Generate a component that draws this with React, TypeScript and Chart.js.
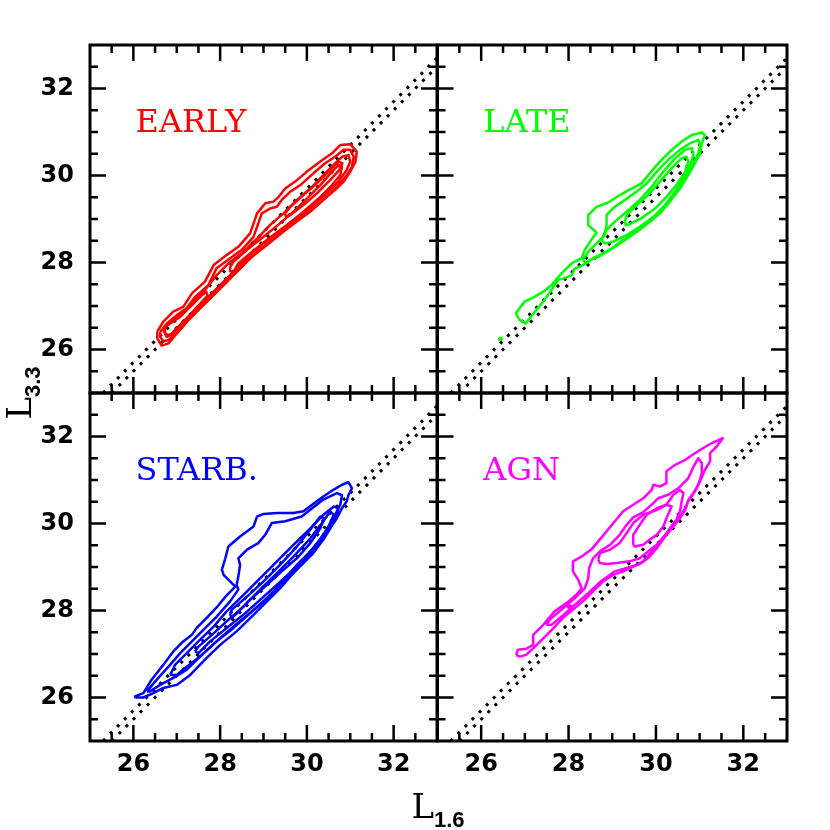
import React, { useEffect, useRef } from "react";
import { Chart, registerables } from "chart.js";

Chart.register(...registerables);

// ---------- axis definition ----------
const AXIS_MIN = 25;
const AXIS_MAX = 33;
const MAJOR_TICKS = [26, 28, 30, 32];
const MINOR_STEP = 0.5;
const DIAGONAL_OFFSETS = [-0.3, -0.5]; // y = x + offset
const LABEL_POS = [26.05, 31.0]; // panel label anchor (data units)

const PANEL_LABELS = ["EARLY", "LATE", "STARB.", "AGN"];
const X_TITLE = "L";
const X_TITLE_SUB = "1.6";
const Y_TITLE = "L";
const Y_TITLE_SUB = "3.3";

type P = [number, number];

// ---------- EARLY contours (L1.6, L3.3) ----------
const early1: P[] = [[26.55,26.41],[26.69,26.64],[26.92,26.87],[27.15,26.98],[27.35,27.29],[27.65,27.56],[27.85,27.94],[28.15,28.17],[28.42,28.36],[28.69,28.67],[28.81,29.01],[28.85,29.13],[29.04,29.36],[29.23,29.40],[29.35,29.51],[29.50,29.70],[29.73,29.86],[30.00,30.09],[30.31,30.32],[30.58,30.51],[30.77,30.70],[31.00,30.72],[31.15,30.55],[31.12,30.32],[31.00,30.09],[30.85,29.86],[30.65,29.67],[30.38,29.44],[30.08,29.17],[29.77,28.94],[29.46,28.71],[29.08,28.40],[28.69,28.10],[28.46,27.87],[28.15,27.56],[27.77,27.18],[27.46,26.87],[27.23,26.64],[27.00,26.37],[26.81,26.14],[26.65,26.09],[26.55,26.26]];
const early2: P[] = [[26.62,26.41],[26.77,26.60],[27.00,26.79],[27.23,26.95],[27.42,27.21],[27.73,27.48],[27.92,27.87],[28.23,28.10],[28.50,28.29],[28.77,28.59],[28.88,28.90],[28.96,29.13],[29.15,29.24],[29.31,29.28],[29.42,29.44],[29.62,29.63],[29.85,29.78],[30.15,30.05],[30.42,30.28],[30.65,30.43],[30.85,30.59],[31.00,30.59],[31.08,30.43],[31.04,30.20],[30.92,30.01],[30.73,29.78],[30.50,29.55],[30.19,29.28],[29.88,29.05],[29.54,28.78],[29.15,28.48],[28.77,28.17],[28.54,27.94],[28.23,27.63],[27.85,27.25],[27.54,26.95],[27.27,26.68],[27.04,26.41],[26.81,26.22],[26.69,26.19],[26.62,26.29]];
const early3: P[] = [[26.69,26.45],[26.85,26.64],[27.12,26.83],[27.38,27.10],[27.65,27.37],[27.92,27.71],[28.19,27.98],[28.50,28.21],[28.85,28.55],[29.15,28.86],[29.46,29.13],[29.77,29.44],[30.08,29.70],[30.38,30.01],[30.65,30.28],[30.81,30.43],[30.96,30.47],[31.00,30.32],[30.92,30.13],[30.73,29.86],[30.46,29.59],[30.15,29.32],[29.81,29.05],[29.46,28.78],[29.12,28.52],[28.73,28.21],[28.42,27.90],[28.12,27.60],[27.73,27.21],[27.42,26.91],[27.15,26.64],[26.92,26.37],[26.77,26.29]];
const early4: P[] = [[28.23,27.90],[28.31,28.02],[28.62,28.29],[29.00,28.59],[29.38,28.90],[29.69,29.17],[30.00,29.47],[30.31,29.78],[30.58,30.09],[30.73,30.24],[30.81,30.20],[30.77,30.01],[30.58,29.78],[30.27,29.47],[29.92,29.17],[29.54,28.86],[29.12,28.55],[28.69,28.21],[28.42,27.98],[28.31,27.79],[28.23,27.80]];
const early5: P[] = [[26.73,26.52],[26.85,26.60],[27.08,26.75],[27.31,26.98],[27.54,27.21],[27.68,27.33],[27.71,27.24],[27.50,27.01],[27.23,26.71],[27.00,26.49],[26.85,26.33],[26.75,26.35]];
const early6: P[] = [[29.50,29.13],[29.62,29.28],[29.92,29.55],[30.23,29.82],[30.54,30.13],[30.73,30.32],[30.82,30.28],[30.75,30.13],[30.54,29.90],[30.23,29.59],[29.92,29.32],[29.62,29.09],[29.52,29.05]];

// ---------- LATE contours ----------
const late1: P[] = [[26.79,26.83],[26.99,27.10],[27.22,27.21],[27.42,27.33],[27.61,27.48],[27.84,27.75],[28.07,27.98],[28.30,28.10],[28.37,28.29],[28.52,28.52],[28.64,28.69],[28.45,28.86],[28.45,29.09],[28.64,29.28],[28.91,29.38],[29.17,29.55],[29.44,29.70],[29.67,29.82],[29.86,30.05],[30.09,30.32],[30.32,30.55],[30.59,30.78],[30.82,30.93],[31.05,30.99],[31.12,30.93],[31.05,30.74],[31.01,30.51],[30.89,30.28],[30.74,30.01],[30.55,29.70],[30.32,29.40],[30.09,29.13],[29.82,28.90],[29.56,28.71],[29.25,28.52],[28.94,28.29],[28.68,28.13],[28.49,28.06],[28.33,27.94],[28.14,27.86],[28.07,27.71],[27.91,27.64],[27.76,27.60],[27.61,27.37],[27.42,27.10],[27.26,26.91],[27.11,26.72],[27.02,26.60],[26.88,26.68]];
const late2: P[] = [[28.33,28.06],[28.45,28.25],[28.68,28.48],[28.83,28.63],[28.87,28.86],[28.87,29.09],[29.02,29.25],[29.29,29.44],[29.56,29.63],[29.79,29.82],[30.02,30.09],[30.28,30.36],[30.55,30.59],[30.78,30.74],[30.97,30.82],[31.01,30.70],[30.97,30.51],[30.86,30.28],[30.70,30.01],[30.51,29.70],[30.28,29.40],[30.02,29.09],[29.71,28.82],[29.40,28.59],[29.06,28.36],[28.79,28.21],[28.56,28.10],[28.41,27.98]];
const late3: P[] = [[28.75,28.52],[28.83,28.71],[29.06,28.94],[29.33,29.17],[29.63,29.44],[29.90,29.74],[30.17,30.09],[30.44,30.40],[30.67,30.59],[30.82,30.63],[30.86,30.47],[30.78,30.24],[30.63,29.94],[30.44,29.63],[30.21,29.32],[29.94,29.05],[29.63,28.82],[29.33,28.63],[29.02,28.48],[28.83,28.44]];
const late4: P[] = [[29.29,28.94],[29.33,29.09],[29.56,29.32],[29.82,29.55],[30.09,29.86],[30.36,30.17],[30.59,30.40],[30.70,30.43],[30.74,30.32],[30.67,30.09],[30.47,29.78],[30.24,29.51],[29.98,29.24],[29.67,29.02],[29.40,28.88],[29.31,28.86]];
const lateDots: P[] = [[26.44, 26.24]];

// ---------- STARB. contours ----------
const starb1: P[] = [[26.02,26.02],[26.23,26.10],[26.42,26.41],[26.69,26.75],[26.92,27.06],[27.15,27.29],[27.35,27.44],[27.46,27.60],[27.69,27.83],[27.92,28.07],[28.15,28.35],[28.35,28.55],[28.23,28.67],[28.08,28.82],[28.04,28.94],[28.12,29.20],[28.19,29.47],[28.46,29.70],[28.77,29.93],[28.85,30.16],[29.00,30.22],[29.31,30.24],[29.69,30.24],[29.92,30.28],[30.12,30.43],[30.38,30.62],[30.62,30.78],[30.81,30.89],[30.96,30.95],[31.04,30.81],[30.96,30.66],[30.92,30.51],[30.81,30.35],[30.69,30.12],[30.54,29.89],[30.38,29.63],[30.15,29.32],[29.88,29.05],[29.65,28.82],[29.38,28.51],[29.08,28.21],[28.77,27.90],[28.38,27.52],[28.00,27.21],[27.69,26.91],[27.31,26.52],[27.00,26.29],[26.69,26.22],[26.46,26.10],[26.23,26.00],[26.06,26.00]];
const starb2: P[] = [[26.31,26.14],[26.54,26.41],[26.81,26.71],[27.08,27.02],[27.35,27.29],[27.62,27.56],[27.92,27.86],[28.23,28.21],[28.42,28.48],[28.38,28.59],[28.42,28.78],[28.46,29.05],[28.42,29.20],[28.62,29.40],[28.88,29.55],[29.04,29.74],[29.19,30.01],[29.50,30.05],[29.88,30.16],[30.12,30.35],[30.38,30.55],[30.69,30.70],[30.81,30.65],[30.77,30.43],[30.65,30.20],[30.50,29.93],[30.31,29.63],[30.04,29.32],[29.77,29.05],[29.54,28.78],[29.27,28.48],[28.96,28.17],[28.65,27.90],[28.31,27.60],[27.92,27.29],[27.58,26.98],[27.23,26.64],[26.92,26.45],[26.62,26.29],[26.38,26.14]];
const starb3: P[] = [[26.85,26.52],[26.96,26.75],[27.23,27.02],[27.54,27.33],[27.85,27.63],[28.15,27.98],[28.54,28.36],[28.92,28.74],[29.31,29.13],[29.69,29.51],[30.08,29.89],[30.38,30.20],[30.62,30.39],[30.73,30.35],[30.65,30.12],[30.46,29.82],[30.23,29.47],[29.96,29.17],[29.69,28.90],[29.38,28.59],[29.08,28.28],[28.73,27.98],[28.35,27.67],[27.96,27.33],[27.58,26.98],[27.23,26.71],[27.00,26.52]];
const starb4: P[] = [[27.42,27.06],[27.50,27.17],[27.81,27.44],[28.15,27.75],[28.54,28.09],[28.92,28.48],[29.31,28.86],[29.69,29.24],[30.08,29.66],[30.38,30.05],[30.54,30.28],[30.62,30.20],[30.50,29.93],[30.27,29.59],[30.00,29.24],[29.69,28.94],[29.35,28.63],[28.96,28.28],[28.58,27.94],[28.15,27.60],[27.77,27.29],[27.50,27.02]];
const starb5: P[] = [[28.23,27.90],[28.27,28.02],[28.62,28.32],[29.00,28.67],[29.38,29.05],[29.77,29.47],[30.08,29.86],[30.31,30.16],[30.40,30.12],[30.31,29.89],[30.08,29.55],[29.77,29.20],[29.42,28.90],[29.08,28.59],[28.69,28.25],[28.35,27.90],[28.27,27.84]];

// ---------- AGN contours ----------
const agn1: P[] = [[26.80,26.98],[26.84,27.10],[27.03,27.12],[27.19,27.21],[27.19,27.44],[27.42,27.67],[27.68,27.98],[27.95,28.17],[28.18,28.36],[28.30,28.51],[28.22,28.71],[28.10,28.90],[28.10,29.13],[28.30,29.24],[28.52,29.40],[28.68,29.59],[28.87,29.82],[29.06,30.05],[29.25,30.28],[29.48,30.43],[29.71,30.58],[29.90,30.77],[29.94,30.89],[30.09,30.85],[30.24,30.93],[30.24,31.20],[30.44,31.35],[30.67,31.46],[30.78,31.54],[31.01,31.69],[31.28,31.85],[31.53,31.96],[31.39,31.77],[31.24,31.62],[31.24,31.43],[31.12,31.23],[31.01,30.97],[30.89,30.74],[30.74,30.51],[30.63,30.28],[30.47,30.05],[30.28,29.82],[30.09,29.59],[29.90,29.36],[29.71,29.13],[29.48,29.01],[29.25,28.90],[29.02,28.82],[28.79,28.67],[28.56,28.44],[28.33,28.21],[28.10,28.02],[27.87,27.83],[27.65,27.59],[27.42,27.36],[27.19,27.13],[27.03,26.98],[26.88,26.94]];
const agn2: P[] = [[27.49,27.67],[27.57,27.79],[27.84,28.02],[28.14,28.28],[28.37,28.51],[28.45,28.74],[28.47,28.97],[28.56,29.20],[28.72,29.36],[28.95,29.51],[29.17,29.74],[29.33,29.97],[29.48,30.14],[29.71,30.26],[29.94,30.47],[30.05,30.58],[30.28,30.66],[30.51,30.81],[30.74,31.04],[30.86,31.31],[30.97,31.50],[31.05,31.39],[31.05,31.16],[30.97,30.89],[30.86,30.70],[30.74,30.54],[30.67,30.31],[30.55,30.12],[30.40,29.93],[30.21,29.70],[30.02,29.43],[29.82,29.20],[29.63,29.07],[29.37,28.99],[29.06,28.90],[28.75,28.68],[28.45,28.40],[28.14,28.13],[27.84,27.86],[27.61,27.67]];
const agn3: P[] = [[28.68,29.17],[28.72,29.32],[28.95,29.40],[29.17,29.55],[29.33,29.78],[29.48,30.01],[29.71,30.20],[30.02,30.31],[30.24,30.43],[30.40,30.66],[30.55,30.77],[30.63,30.70],[30.59,30.51],[30.55,30.28],[30.47,30.09],[30.32,29.89],[30.17,29.66],[30.02,29.51],[29.82,29.36],[29.63,29.20],[29.40,29.13],[29.10,29.09],[28.87,29.07],[28.72,29.09]];
const agn4: P[] = [[29.48,29.51],[29.48,29.74],[29.63,29.97],[29.79,30.20],[30.02,30.35],[30.24,30.43],[30.36,30.39],[30.24,30.12],[30.17,29.93],[30.02,29.74],[29.86,29.63],[29.71,29.51],[29.52,29.47]];
const agn5: P[] = [[27.99,28.13],[28.10,28.09],[28.07,28.05],[27.99,28.07]];

// ---------- panel setup (layout + style) ----------
const W = 830;
const H = 830;
const PANELS = [
  { label: PANEL_LABELS[0], color: "#ff0000", contours: [early1, early2, early3, early4, early5, early6], dots: [] as P[], box: { left: 90, top: 45, right: 437, bottom: 393 }, showX: false, showY: true, titles: false },
  { label: PANEL_LABELS[1], color: "#00ff00", contours: [late1, late2, late3, late4], dots: lateDots, box: { left: 437.5, top: 45, right: 787, bottom: 393 }, showX: false, showY: false, titles: false },
  { label: PANEL_LABELS[2], color: "#0000ff", contours: [starb1, starb2, starb3, starb4, starb5], dots: [] as P[], box: { left: 90, top: 393, right: 437, bottom: 741 }, showX: true, showY: true, titles: true },
  { label: PANEL_LABELS[3], color: "#ff00ff", contours: [agn1, agn2, agn3, agn4, agn5], dots: [] as P[], box: { left: 437.5, top: 393, right: 787, bottom: 741 }, showX: true, showY: false, titles: false },
];

const Y_AXIS_WIDTH = 60;
const X_AXIS_HEIGHT = 50;
const TICK_FONT = { family: "DejaVu Sans", size: 24, weight: "bold" as const };

const decorPlugin = {
  id: "panelDecor",
  afterDatasetsDraw(chart: any, _args: any, opts: any) {
    const { ctx, chartArea: a, scales } = chart;
    const xs = scales.x;
    const ys = scales.y;
    ctx.save();
    // panel label
    ctx.fillStyle = opts.color;
    ctx.font = '32px "DejaVu Serif"';
    ctx.textAlign = "left";
    ctx.textBaseline = "alphabetic";
    ctx.fillText(opts.label, xs.getPixelForValue(LABEL_POS[0]), ys.getPixelForValue(LABEL_POS[1]));
    // inward ticks on four sides
    ctx.strokeStyle = "#000";
    ctx.lineWidth = 2.5;
    ctx.lineCap = "butt";
    ctx.beginPath();
    for (let v = AXIS_MIN + MINOR_STEP; v < AXIS_MAX - 1e-9; v += MINOR_STEP) {
      const len = MAJOR_TICKS.includes(v) ? 16 : 8;
      const px = xs.getPixelForValue(v);
      const py = ys.getPixelForValue(v);
      ctx.moveTo(px, a.bottom); ctx.lineTo(px, a.bottom - len);
      ctx.moveTo(px, a.top); ctx.lineTo(px, a.top + len);
      ctx.moveTo(a.left, py); ctx.lineTo(a.left + len, py);
      ctx.moveTo(a.right, py); ctx.lineTo(a.right - len, py);
    }
    ctx.stroke();
    // frame
    ctx.lineWidth = 3;
    ctx.strokeRect(a.left, a.top, a.right - a.left, a.bottom - a.top);
    // axis titles
    if (opts.titles) {
      const mainFont = '34px "DejaVu Serif"';
      const subFont = 'bold 22px "Liberation Sans"';
      ctx.fillStyle = "#000";
      ctx.textAlign = "left";
      ctx.textBaseline = "alphabetic";
      const drawTitle = (main: string, sub: string) => {
        ctx.font = mainFont;
        const wm = ctx.measureText(main).width;
        ctx.font = subFont;
        const ws = ctx.measureText(sub).width;
        const start = -(wm + ws) / 2;
        ctx.font = mainFont;
        ctx.fillText(main, start, 0);
        ctx.font = subFont;
        ctx.fillText(sub, start + wm, 9);
      };
      ctx.save();
      ctx.translate(opts.xTitle.cx, opts.xTitle.baseline);
      drawTitle(X_TITLE, X_TITLE_SUB);
      ctx.restore();
      ctx.save();
      ctx.translate(opts.yTitle.baseline, opts.yTitle.cy);
      ctx.rotate(-Math.PI / 2);
      drawTitle(Y_TITLE, Y_TITLE_SUB);
      ctx.restore();
    }
    ctx.restore();
  },
};

function closeRing(pts: P[]) {
  const out = pts.map(([x, y]) => ({ x, y }));
  out.push({ x: pts[0][0], y: pts[0][1] });
  return out;
}

export default function App() {
  const refs = [useRef<HTMLCanvasElement>(null), useRef<HTMLCanvasElement>(null), useRef<HTMLCanvasElement>(null), useRef<HTMLCanvasElement>(null)];

  useEffect(() => {
    const charts: Chart[] = [];
    PANELS.forEach((panel, i) => {
      const canvas = refs[i].current;
      if (!canvas) return;
      const datasets: any[] = [];
      panel.contours.forEach((c) => {
        datasets.push({
          data: closeRing(c),
          showLine: true,
          borderColor: panel.color,
          borderWidth: 2.5,
          borderJoinStyle: "round",
          pointRadius: 0,
          fill: false,
          tension: 0,
        });
      });
      DIAGONAL_OFFSETS.forEach((o) => {
        datasets.push({
          data: [
            { x: AXIS_MIN - o, y: AXIS_MIN },
            { x: AXIS_MAX, y: AXIS_MAX + o },
          ],
          showLine: true,
          borderColor: "#000",
          borderWidth: 3,
          borderDash: [3, 7],
          borderCapStyle: "butt",
          pointRadius: 0,
          fill: false,
        });
      });
      if (panel.dots.length) {
        datasets.push({
          data: panel.dots.map(([x, y]) => ({ x, y })),
          showLine: false,
          pointRadius: 2,
          pointBackgroundColor: panel.color,
          pointBorderColor: panel.color,
        });
      }
      const b = panel.box;
      const chart = new Chart(canvas, {
        type: "scatter",
        data: { datasets },
        plugins: [decorPlugin],
        options: {
          animation: false,
          responsive: false,
          maintainAspectRatio: false,
          devicePixelRatio: 1,
          events: [],
          layout: {
            autoPadding: false,
            padding: {
              left: panel.showY ? b.left - Y_AXIS_WIDTH : b.left,
              top: b.top,
              right: W - b.right,
              bottom: panel.showX ? H - b.bottom - X_AXIS_HEIGHT : H - b.bottom,
            },
          },
          plugins: {
            legend: { display: false },
            tooltip: { enabled: false },
            title: { display: false },
            panelDecor: {
              label: panel.label,
              color: panel.color,
              titles: panel.titles,
              xTitle: { cx: 438, baseline: 818 },
              yTitle: { cy: 393, baseline: 31 },
            },
          } as any,
          scales: {
            x: {
              type: "linear",
              position: "bottom",
              min: AXIS_MIN,
              max: AXIS_MAX,
              display: panel.showX,
              grid: { display: false, drawTicks: false, drawOnChartArea: false },
              border: { display: false },
              ticks: { color: "#000", font: TICK_FONT, padding: 9, maxRotation: 0, autoSkip: false },
              afterBuildTicks: (s: any) => {
                s.ticks = MAJOR_TICKS.map((v) => ({ value: v }));
              },
              afterFit: (s: any) => {
                if (panel.showX) s.height = X_AXIS_HEIGHT;
              },
            },
            y: {
              type: "linear",
              position: "left",
              min: AXIS_MIN,
              max: AXIS_MAX,
              display: panel.showY,
              grid: { display: false, drawTicks: false, drawOnChartArea: false },
              border: { display: false },
              ticks: { color: "#000", font: TICK_FONT, padding: 16, autoSkip: false },
              afterBuildTicks: (s: any) => {
                s.ticks = MAJOR_TICKS.map((v) => ({ value: v }));
              },
              afterFit: (s: any) => {
                if (panel.showY) s.width = Y_AXIS_WIDTH;
              },
            },
          },
        } as any,
      });
      charts.push(chart);
    });
    return () => charts.forEach((c) => c.destroy());
  }, []);

  return (
    <div style={{ position: "fixed", left: 0, top: 0, width: W, height: H, background: "#fff" }}>
      {refs.map((r, i) => (
        <canvas key={i} ref={r} width={W} height={H} style={{ position: "absolute", left: 0, top: 0, width: W, height: H }} />
      ))}
    </div>
  );
}
